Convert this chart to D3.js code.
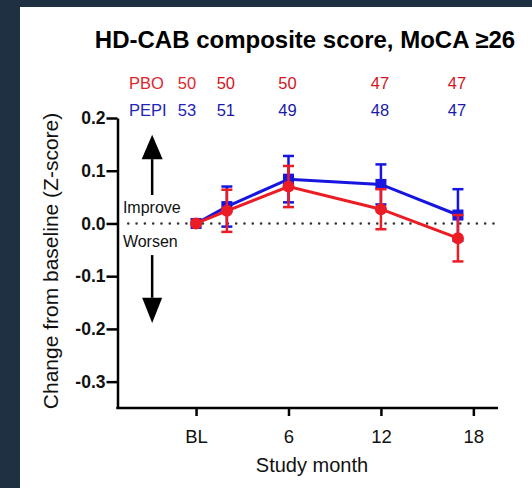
<!DOCTYPE html>
<html>
<head>
<meta charset="utf-8">
<script src="https://cdn.jsdelivr.net/npm/d3@7"></script>
<style>
  html, body { margin: 0; padding: 0; background: #1f3043; }
  svg { display: block; }
  text { font-family: "Liberation Sans", Arial, sans-serif; }
</style>
</head>
<body>
<div id="chart"></div>
<script>
const months = [0, 2, 6, 12, 17];
const pboMean = [0, 0.024, 0.070, 0.027, -0.028];
const pboSE = [0, 0.040, 0.039, 0.038, 0.044];
const pepiMean = [0, 0.032, 0.084, 0.074, 0.016];
const pepiSE = [0, 0.038, 0.044, 0.038, 0.049];
const pboN = [50, 50, 50, 47, 47];
const pepiN = [53, 51, 49, 48, 47];
const xTicks = [0, 6, 12, 18];
const xTickLabels = ['BL', '6', '12', '18'];
const yTicks = [-0.3, -0.2, -0.1, 0, 0.1, 0.2];

const W = 532, H = 488;
const red = '#ec1c24', blue = '#1616e0';
const redText = '#e0262c', blueText = '#2424b8';

const svg = d3.select('#chart').append('svg')
  .attr('width', W)
  .attr('height', H);

// white panel
svg.append('rect')
  .attr('x', 20).attr('y', 7)
  .attr('width', W - 20).attr('height', H - 7)
  .attr('fill', '#fff');

const x = d3.scaleLinear().domain([-5.1, 19.6]).range([117.5, 498]);
const y = d3.scaleLinear().domain([-0.35, 0.2]).range([408, 118]);

// title
svg.append('text')
  .attr('x', 305).attr('y', 48)
  .attr('text-anchor', 'middle')
  .style('font-size', '24px')
  .style('font-weight', 'bold')
  .text('HD-CAB composite score, MoCA \u226526');

// axes
const yAxis = svg.append('g')
  .attr('transform', `translate(${x.range()[0]},0)`)
  .call(d3.axisLeft(y).tickValues(yTicks).tickFormat(d => d.toFixed(1)).tickSize(11).tickSizeOuter(0).tickPadding(1));
yAxis.select('.domain').attr('stroke-width', 2.5);
yAxis.selectAll('.tick line').attr('stroke-width', 2.5);
yAxis.selectAll('.tick text')
  .attr('fill', '#111')
  .style('font-size', '17.5px')
  .style('font-weight', 'bold')
  .style('font-family', '"Liberation Sans", Arial, sans-serif');

const xAxis = svg.append('g')
  .attr('transform', `translate(0,${y.range()[0]})`)
  .call(d3.axisBottom(x).tickValues(xTicks).tickFormat((d, i) => xTickLabels[i]).tickSize(8).tickSizeOuter(0).tickPadding(14));
xAxis.select('.domain').attr('stroke-width', 2.5).attr('d', `M${x.range()[0] - 1.2},0H${x.range()[1]}`);
xAxis.selectAll('.tick line').attr('stroke-width', 2.5);
xAxis.selectAll('.tick text')
  .attr('fill', '#111')
  .style('font-size', '18.5px')
  .style('font-family', '"Liberation Sans", Arial, sans-serif');

svg.append('text')
  .attr('x', 312).attr('y', 472)
  .attr('text-anchor', 'middle')
  .style('font-size', '20px')
  .attr('fill', '#111')
  .text('Study month');

svg.append('text')
  .attr('transform', `translate(58,261) rotate(-90)`)
  .attr('text-anchor', 'middle')
  .style('font-size', '21px')
  .attr('fill', '#111')
  .text('Change from baseline (Z-score)');

// dotted zero line
svg.append('line')
  .attr('x1', x(-4.4)).attr('x2', x(19.7))
  .attr('y1', y(0)).attr('y2', y(0))
  .attr('stroke', '#333')
  .attr('stroke-width', 2.6)
  .attr('stroke-linecap', 'round')
  .attr('stroke-dasharray', '0,8.3');

// improve / worsen arrows
const ax = x(-2.85);
svg.append('line')
  .attr('x1', ax).attr('x2', ax)
  .attr('y1', y(0.122)).attr('y2', y(0.054))
  .attr('stroke', '#000').attr('stroke-width', 2.5);
svg.append('path')
  .attr('d', `M${ax},${y(0.168)}L${ax + 10.5},${y(0.122)}L${ax - 10.5},${y(0.122)}Z`)
  .attr('fill', '#000');
svg.append('line')
  .attr('x1', ax).attr('x2', ax)
  .attr('y1', y(-0.06)).attr('y2', y(-0.141))
  .attr('stroke', '#000').attr('stroke-width', 2.5);
svg.append('path')
  .attr('d', `M${ax},${y(-0.189)}L${ax + 10},${y(-0.141)}L${ax - 10},${y(-0.141)}Z`)
  .attr('fill', '#000');
svg.append('text')
  .attr('x', x(-4.75)).attr('y', y(0.02))
  .style('font-size', '16px').attr('fill', '#111')
  .text('Improve');
svg.append('text')
  .attr('x', x(-4.75)).attr('y', y(-0.044))
  .style('font-size', '16px').attr('fill', '#111')
  .text('Worsen');

// n at risk rows
const rows = [
  { label: 'PBO', n: pboN, color: redText, dark: '#d4141c', yb: 89 },
  { label: 'PEPI', n: pepiN, color: blueText, dark: '#1a1aa8', yb: 116 }
];
rows.forEach(r => {
  svg.append('text')
    .attr('x', 129).attr('y', r.yb)
    .style('font-size', '16.5px').attr('fill', r.color)
    .text(r.label);
  svg.selectAll(null)
    .data(r.n)
    .join('text')
    .attr('x', (d, i) => i === 0 ? x(months[i]) : x(months[i]) - 1)
    .attr('y', r.yb)
    .attr('text-anchor', (d, i) => i === 0 ? 'end' : 'middle')
    .style('font-size', '16.5px')
    .attr('fill', (d, i) => i === 0 ? r.color : r.dark)
    .text(d => d);
});

// series
const series = [
  { mean: pepiMean, se: pepiSE, color: blue, shape: 'square' },
  { mean: pboMean, se: pboSE, color: red, shape: 'circle' }
];
const line = d3.line().x(d => x(d.m)).y(d => y(d.v));
const cap = 5.5;

series.forEach(s => {
  const pts = months.map((m, i) => ({ m, v: s.mean[i], se: s.se[i] }));
  const g = svg.append('g');
  const eb = pts.filter(d => d.se > 0);
  g.selectAll('line.eb')
    .data(eb)
    .join('line')
    .attr('x1', d => x(d.m)).attr('x2', d => x(d.m))
    .attr('y1', d => y(d.v + d.se)).attr('y2', d => y(d.v - d.se))
    .attr('stroke', s.color).attr('stroke-width', 2.5);
  [1, -1].forEach(sign => {
    g.selectAll(null)
      .data(eb)
      .join('line')
      .attr('x1', d => x(d.m) - cap).attr('x2', d => x(d.m) + cap)
      .attr('y1', d => y(d.v + sign * d.se)).attr('y2', d => y(d.v + sign * d.se))
      .attr('stroke', s.color).attr('stroke-width', 2.5);
  });
  g.append('path')
    .attr('d', line(pts))
    .attr('fill', 'none')
    .attr('stroke', s.color)
    .attr('stroke-width', 3);
  if (s.shape === 'square') {
    g.selectAll('rect')
      .data(pts)
      .join('rect')
      .attr('x', d => x(d.m) - 5.5).attr('y', d => y(d.v) - 5.5)
      .attr('width', 11).attr('height', 11)
      .attr('fill', s.color);
  } else {
    g.selectAll('circle')
      .data(pts)
      .join('circle')
      .attr('cx', d => x(d.m)).attr('cy', d => y(d.v))
      .attr('r', 6)
      .attr('fill', s.color);
  }
});
</script>
</body>
</html>
